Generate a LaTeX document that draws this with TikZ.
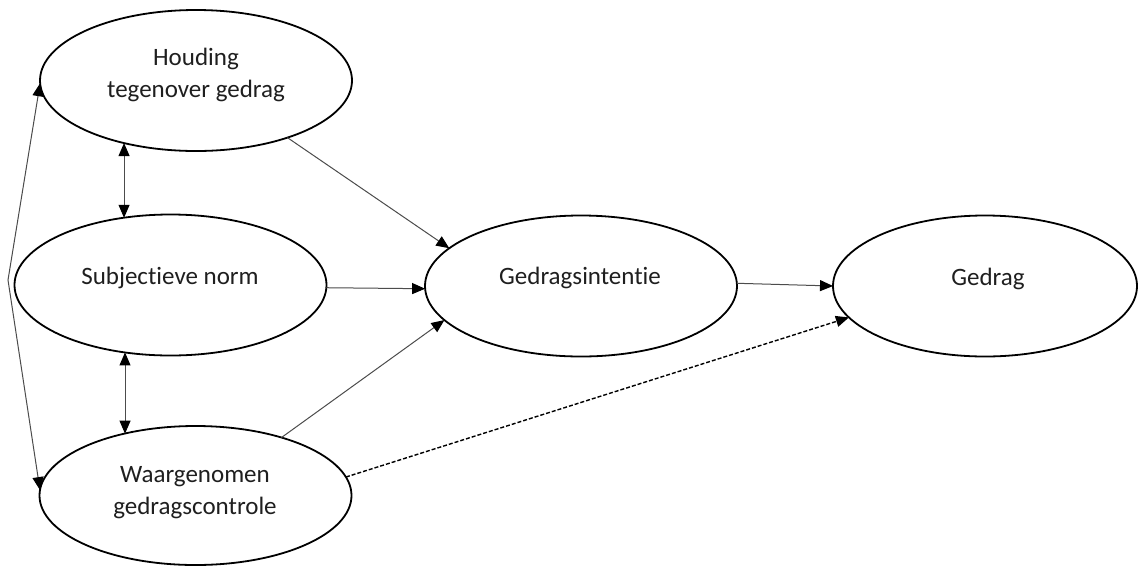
\documentclass[tikz,border=0pt]{standalone}
\usepackage{fontspec}
\setmainfont{Carlito}[RawFeature={-liga;-clig;-calt;-dlig}]
\usetikzlibrary{shapes.geometric,arrows.meta}
\begin{document}
\begin{tikzpicture}[x=1pt,y=-1pt,
  oval/.style={ellipse,draw=black,line width=1.8pt,inner sep=0pt,outer sep=0pt,minimum width=312pt,minimum height=141pt},
  lbl/.style={font=\fontsize{25}{32}\selectfont,text=black!88,align=center,anchor=base,inner sep=0pt},
  arr/.style={line width=1pt,draw=black!70,-{Triangle[length=13pt,width=11pt,color=black]}},
  dbl/.style={line width=1pt,draw=black!70,{Triangle[length=13pt,width=11pt,color=black]}-{Triangle[length=13pt,width=11pt,color=black]}},
]
\path[use as bounding box] (0,0) rectangle (1138,566);
\fill[white] (0,0) rectangle (1138,566);

\node[oval] (e1) at (196,80.5) {};
\node[oval] (e2) at (170.5,285) {};
\node[oval,minimum height=139pt] (e3) at (195.5,495.5) {};
\node[oval] (e4) at (581,286) {};
\node[oval,minimum width=304pt] (e5) at (985,286) {};

\node[lbl] (t1) at (196,97) {Houding\\tegenover gedrag};
\node[lbl] (t2) at (170,284) {Subjectieve norm};
\node[lbl] (t3) at (195,514) {Waargenomen\\gedragscontrole};
\node[lbl] (t4) at (580,284) {Gedragsintentie};
\node[lbl] (t5) at (988,285) {Gedrag};

\coordinate (k) at (8,280);
\draw[dbl] (e1.181) -- (k) -- (e3.178);
\draw[dbl] (e1.221) -- (e1.221 |- e2.125);
\draw[dbl] (e2.236) -- (e2.236 |- e3.139);

\draw[arr] (e1.-32) -- (e4.164);
\draw[arr] (e2.-1) -- (e4.181);
\draw[arr] (e3.34) -- (e4.194);
\draw[arr] (e4.1) -- (e5.180);
\draw[arr,draw=black,line width=1.4pt,dash pattern=on 4pt off 2pt] (e3.7) -- (e5.193);
\end{tikzpicture}
\end{document}
